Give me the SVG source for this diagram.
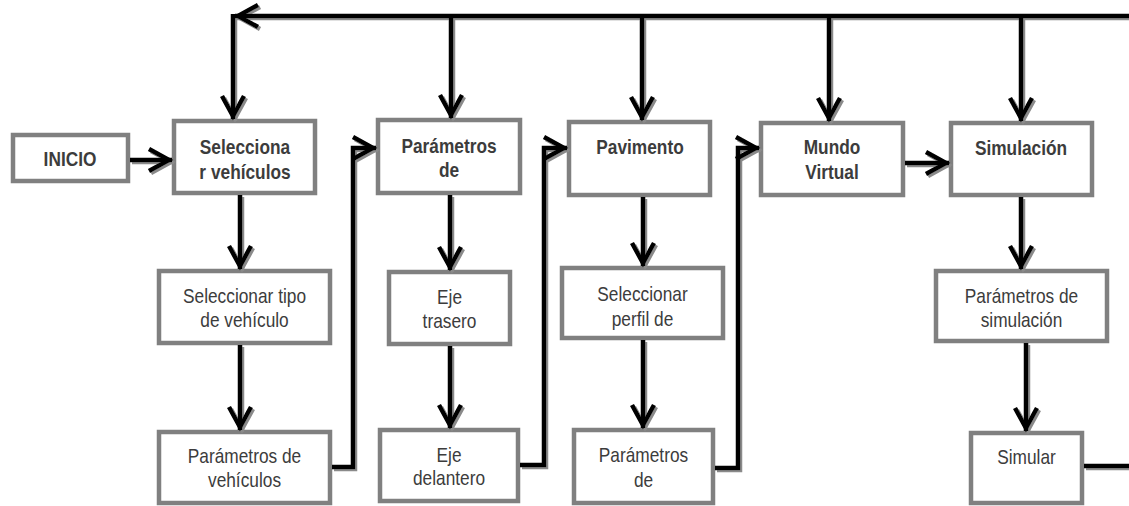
<svg xmlns="http://www.w3.org/2000/svg" width="1129" height="506" viewBox="0 0 1129 506">
  <defs>
    <style>
      .box { fill: #ffffff; stroke: #808080; stroke-width: 4.5; }
      .lbl { font-family: "Liberation Sans", Arial, sans-serif; font-size: 20px; fill: #3c3c3c; text-anchor: middle; }
      .b { font-weight: bold; }
      .wire { fill: none; stroke: #000000; stroke-width: 4.5; stroke-linejoin: miter; marker-end: url(#chev); }
      .plain { marker-end: none; }
    </style>
    <!-- open chevron arrowhead -->
    <marker id="chev" viewBox="0 0 30 26" refX="25" refY="13" markerWidth="30" markerHeight="26" markerUnits="userSpaceOnUse" orient="auto">
      <path d="M2,2 L22,13 L2,24" fill="none" stroke="#000000" stroke-width="4.5"/>
    </marker>
    <filter id="shade" x="-5%" y="-5%" width="110%" height="110%">
      <feDropShadow dx="2" dy="2" stdDeviation="0.4" flood-color="#8a8a8a" flood-opacity="1"/>
    </filter>
  </defs>

  <rect width="1129" height="506" fill="#ffffff"/>

  <!-- boxes -->
  <g id="inicio"><rect class="box" x="13" y="135" width="115" height="46"/>
    <text class="lbl b" transform="translate(70,166) scale(0.865,1)">INICIO</text></g>
  <g id="seleccionar-vehiculos"><rect class="box" x="174" y="121" width="141" height="72"/>
    <text class="lbl b" transform="translate(245,154) scale(0.865,1)">Selecciona</text>
    <text class="lbl b" transform="translate(245,179) scale(0.865,1)">r vehículos</text></g>
  <g id="parametros-de"><rect class="box" x="378" y="120" width="142" height="73"/>
    <text class="lbl b" transform="translate(449,153) scale(0.865,1)">Parámetros</text>
    <text class="lbl b" transform="translate(449,177) scale(0.865,1)">de</text></g>
  <g id="pavimento"><rect class="box" x="569" y="122" width="141" height="73"/>
    <text class="lbl b" transform="translate(640,154) scale(0.865,1)">Pavimento</text></g>
  <g id="mundo-virtual"><rect class="box" x="761" y="123" width="142" height="72"/>
    <text class="lbl b" transform="translate(832,154) scale(0.865,1)">Mundo</text>
    <text class="lbl b" transform="translate(832,179) scale(0.865,1)">Virtual</text></g>
  <g id="simulacion"><rect class="box" x="951" y="123" width="141" height="72"/>
    <text class="lbl b" transform="translate(1021,155) scale(0.865,1)">Simulación</text></g>

  <g id="tipo-vehiculo"><rect class="box" x="159" y="271" width="171" height="72"/>
    <text class="lbl" transform="translate(244.5,303) scale(0.865,1)">Seleccionar tipo</text>
    <text class="lbl" transform="translate(244.5,327) scale(0.865,1)">de vehículo</text></g>
  <g id="parametros-vehiculos"><rect class="box" x="159" y="432" width="171" height="71"/>
    <text class="lbl" transform="translate(244.5,463) scale(0.865,1)">Parámetros de</text>
    <text class="lbl" transform="translate(244.5,487) scale(0.865,1)">vehículos</text></g>
  <g id="eje-trasero"><rect class="box" x="389" y="272" width="121" height="72"/>
    <text class="lbl" transform="translate(449.5,304) scale(0.865,1)">Eje</text>
    <text class="lbl" transform="translate(449.5,328) scale(0.865,1)">trasero</text></g>
  <g id="eje-delantero"><rect class="box" x="380" y="430" width="138" height="71"/>
    <text class="lbl" transform="translate(449,462) scale(0.865,1)">Eje</text>
    <text class="lbl" transform="translate(449,485) scale(0.865,1)">delantero</text></g>
  <g id="perfil"><rect class="box" x="562" y="268" width="161" height="70"/>
    <text class="lbl" transform="translate(642.5,301) scale(0.865,1)">Seleccionar</text>
    <text class="lbl" transform="translate(642.5,326) scale(0.865,1)">perfil de</text></g>
  <g id="parametros-pavimento"><rect class="box" x="574" y="430" width="139" height="73"/>
    <text class="lbl" transform="translate(643.5,462) scale(0.865,1)">Parámetros</text>
    <text class="lbl" transform="translate(643.5,487) scale(0.865,1)">de</text></g>
  <g id="parametros-simulacion"><rect class="box" x="936" y="271" width="171" height="70"/>
    <text class="lbl" transform="translate(1021.5,303) scale(0.865,1)">Parámetros de</text>
    <text class="lbl" transform="translate(1021.5,327) scale(0.865,1)">simulación</text></g>
  <g id="simular"><rect class="box" x="971" y="433" width="111" height="70"/>
    <text class="lbl" transform="translate(1026.5,464) scale(0.865,1)">Simular</text></g>

  <!-- connectors -->
  <g id="connectors" filter="url(#shade)">
    <!-- return bus along the top -->
    <path class="wire" d="M1140,16 L235,16"/>
    <path class="wire" d="M233,14 L233,119"/>
    <path class="wire" d="M451,16 L451,118"/>
    <path class="wire" d="M642,16 L642,120"/>
    <path class="wire" d="M829,16 L829,121"/>
    <path class="wire" d="M1021,16 L1021,121"/>
    <!-- main row -->
    <path class="wire" d="M130,160 L172,160"/>
    <path class="wire" d="M905,163 L949,163"/>
    <!-- columns -->
    <path class="wire" d="M240,195 L240,269"/>
    <path class="wire" d="M240,345 L240,430"/>
    <path class="wire" d="M332,467 L353,467 L353,148 L376,148"/>
    <path class="wire" d="M450,195 L450,270"/>
    <path class="wire" d="M450,346 L450,428"/>
    <path class="wire" d="M520,465 L544,465 L544,148 L567,148"/>
    <path class="wire" d="M643,197 L643,266"/>
    <path class="wire" d="M643,340 L643,428"/>
    <path class="wire" d="M715,468 L738,468 L738,148 L759,148"/>
    <path class="wire" d="M1021,197 L1021,269"/>
    <path class="wire" d="M1026,343 L1026,431"/>
    <path class="wire plain" d="M1084,466 L1140,466"/>
  </g>
</svg>
